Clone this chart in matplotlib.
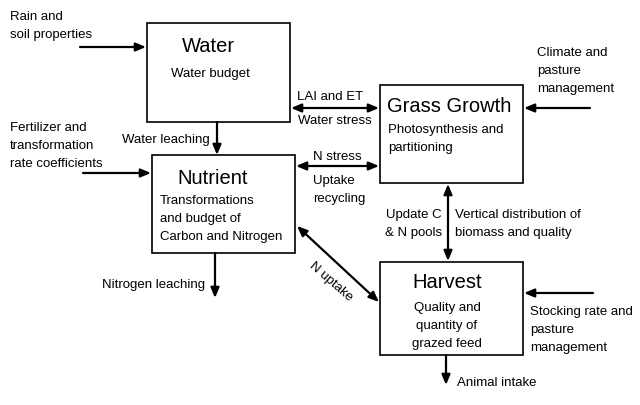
import matplotlib
matplotlib.use('Agg')
import matplotlib.pyplot as plt
from matplotlib.patches import Rectangle

plt.rcParams['font.family'] = ['Liberation Sans', 'DejaVu Sans']

#--------------------------------------------
# 文字資料
#--------------------------------------------
box_names = ['Water', 'Nutrient', 'Grass Growth', 'Harvest']
box_desc = ['Water budget',
            'Transformations\nand budget of\nCarbon and Nitrogen',
            'Photosynthesis and\npartitioning',
            'Quality and\nquantity of\ngrazed feed']
input_labels = ['Rain and\nsoil properties',
                'Fertilizer and\ntransformation\nrate coefficients',
                'Climate and\npasture\nmanagement',
                'Stocking rate and\npasture\nmanagement']
flow_labels = ['Water leaching', 'LAI and ET', 'Water stress', 'N stress',
               'Uptake\nrecycling', 'Update C\n& N pools',
               'Vertical distribution of\nbiomass and quality',
               'N uptake', 'Nitrogen leaching', 'Animal intake']

#--------------------------------------------
# 版面 (像素座標, y 向下)
#--------------------------------------------
boxes = {  # x0, y0, x1, y1
    'Water': (147, 23, 290, 122),
    'Nutrient': (152, 155, 295, 253),
    'Grass Growth': (380, 85, 523, 183),
    'Harvest': (380, 262, 523, 355),
}

fig = plt.figure(figsize=(6.4, 4.05), dpi=100)
ax = fig.add_axes([0, 0, 1, 1])
ax.set_xlim(0, 640)
ax.set_ylim(405, 0)
ax.axis('off')

fs = 9.5
ls = 1.65

# 方框
for name in box_names:
    x0, y0, x1, y1 = boxes[name]
    ax.add_patch(Rectangle((x0, y0), x1 - x0, y1 - y0, fill=False,
                           edgecolor='black', lw=1.2))

# 方框標題與說明
ax.text(208, 47, box_names[0], fontsize=14.5, ha='center', va='center')
ax.text(210, 74, box_desc[0], fontsize=fs, ha='center', va='center')
ax.text(213, 178, box_names[1], fontsize=14.5, ha='center', va='center')
ax.text(160, 219, box_desc[1], fontsize=fs, ha='left', va='center', linespacing=ls)
ax.text(387, 106, box_names[2], fontsize=14.5, ha='left', va='center')
ax.text(388, 139, box_desc[2], fontsize=fs, ha='left', va='center', linespacing=ls)
ax.text(447, 283, box_names[3], fontsize=14.5, ha='center', va='center')
ax.text(447, 326, box_desc[3], fontsize=fs, ha='center', va='center', linespacing=ls)


def arrow(p0, p1, both=False):
    style = '<|-|>' if both else '-|>'
    ax.annotate('', xy=p1, xytext=p0,
                arrowprops=dict(arrowstyle=style + ',head_length=0.6,head_width=0.25',
                                color='black', lw=1.6,
                                shrinkA=0, shrinkB=0))


# 外部輸入
arrow((80, 47), (146, 47))
arrow((83, 173), (151, 173))
arrow((590, 108), (524, 108))
arrow((593, 293), (524, 293))
ax.text(10, 26, input_labels[0], fontsize=fs, ha='left', va='center', linespacing=ls)
ax.text(10, 146, input_labels[1], fontsize=fs, ha='left', va='center', linespacing=ls)
ax.text(537, 71, input_labels[2], fontsize=fs, ha='left', va='center', linespacing=ls)
ax.text(530, 330, input_labels[3], fontsize=fs, ha='left', va='center', linespacing=ls)

# 方框之間的流動
arrow((217, 122), (217, 155))
arrow((291, 108), (379, 108), both=True)
arrow((296, 166), (379, 166), both=True)
arrow((448, 184), (448, 261), both=True)
arrow((297, 226), (379, 302), both=True)
arrow((215, 253), (215, 298))
arrow((446, 355), (446, 385))

ax.text(210, 140, flow_labels[0], fontsize=fs, ha='right', va='center')
ax.text(297, 97, flow_labels[1], fontsize=fs, ha='left', va='center')
ax.text(298, 121, flow_labels[2], fontsize=fs, ha='left', va='center')
ax.text(313, 157, flow_labels[3], fontsize=fs, ha='left', va='center')
ax.text(313, 190, flow_labels[4], fontsize=fs, ha='left', va='center', linespacing=ls)
ax.text(442, 224, flow_labels[5], fontsize=fs, ha='right', va='center', linespacing=ls)
ax.text(455, 224, flow_labels[6], fontsize=fs, ha='left', va='center', linespacing=ls)
ax.text(331, 282, flow_labels[7], fontsize=fs, ha='center', va='center',
        rotation=-41, rotation_mode='anchor')
ax.text(205, 285, flow_labels[8], fontsize=fs, ha='right', va='center')
ax.text(457, 383, flow_labels[9], fontsize=fs, ha='left', va='center')

fig.savefig('out.png', dpi=100)
